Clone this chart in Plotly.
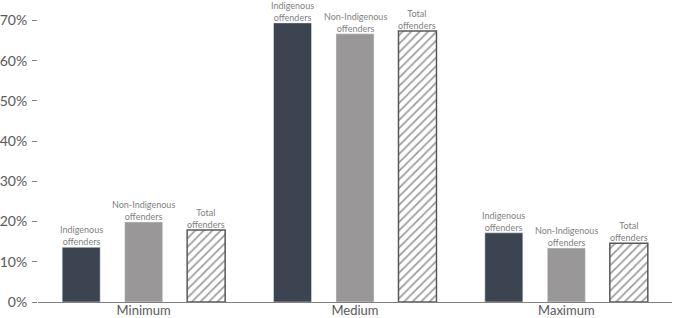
import plotly.graph_objects as go

categories = ["Minimum", "Medium", "Maximum"]
indigenous = [13.6, 69.4, 17.2]
non_indigenous = [19.9, 66.7, 13.4]
total = [17.9, 67.4, 14.6]
labels = ["Indigenous<br>offenders", "Non-Indigenous<br>offenders", "Total<br>offenders"]
y_ticks = [0, 10, 20, 30, 40, 50, 60, 70]
y_tick_text = [f"{v}%" for v in y_ticks]

FONT = "Lato"
GRAY = "#595959"
BARGAP = 0.113
BARGROUPGAP = 0.392

fig = go.Figure()
series = [
    (indigenous, labels[0], dict(color="#3b4450")),
    (non_indigenous, labels[1], dict(color="#999797")),
    (total, labels[2], dict(color="white",
                            line=dict(color="#595959", width=1.5),
                            pattern=dict(shape="/", fgcolor="#3a3a3a", bgcolor="white",
                                         size=6, solidity=0.3))),
]
n = len(series)
for si, (vals, lab, marker) in enumerate(series):
    fig.add_trace(go.Bar(
        x=categories, y=vals, marker=marker,
        showlegend=False, hoverinfo="skip",
    ))
    # label above each bar, positioned at the bar's group slot
    for ci, v in enumerate(vals):
        fig.add_annotation(
            x=ci + (si - (n - 1) / 2) * (1 - BARGAP) / n, y=v,
            xref="x", yref="y", text=lab, showarrow=False,
            yanchor="bottom", yshift=-2,
            font=dict(family=FONT, size=9, color="#7f7f7f"),
        )

fig.update_layout(
    width=700, height=318,
    margin=dict(l=38, r=28, t=6, b=16),
    paper_bgcolor="white", plot_bgcolor="white",
    barmode="group", bargap=BARGAP, bargroupgap=BARGROUPGAP,
    font=dict(family=FONT, color=GRAY),
)
fig.update_xaxes(
    showline=True, linecolor="#7f7f7f", linewidth=1.2,
    showgrid=False, ticks="", tickfont=dict(size=13, color=GRAY),
    ticklabelstandoff=-4, automargin=False,
)
fig.update_yaxes(
    range=[0, 73.6], tickvals=y_ticks, ticktext=y_tick_text,
    showgrid=False, zeroline=False, showline=False,
    ticks="outside", ticklen=5, tickcolor="#7f7f7f",
    ticklabelstandoff=2,
    tickfont=dict(size=14, color=GRAY), automargin=False,
)
fig.write_html("out.html")
